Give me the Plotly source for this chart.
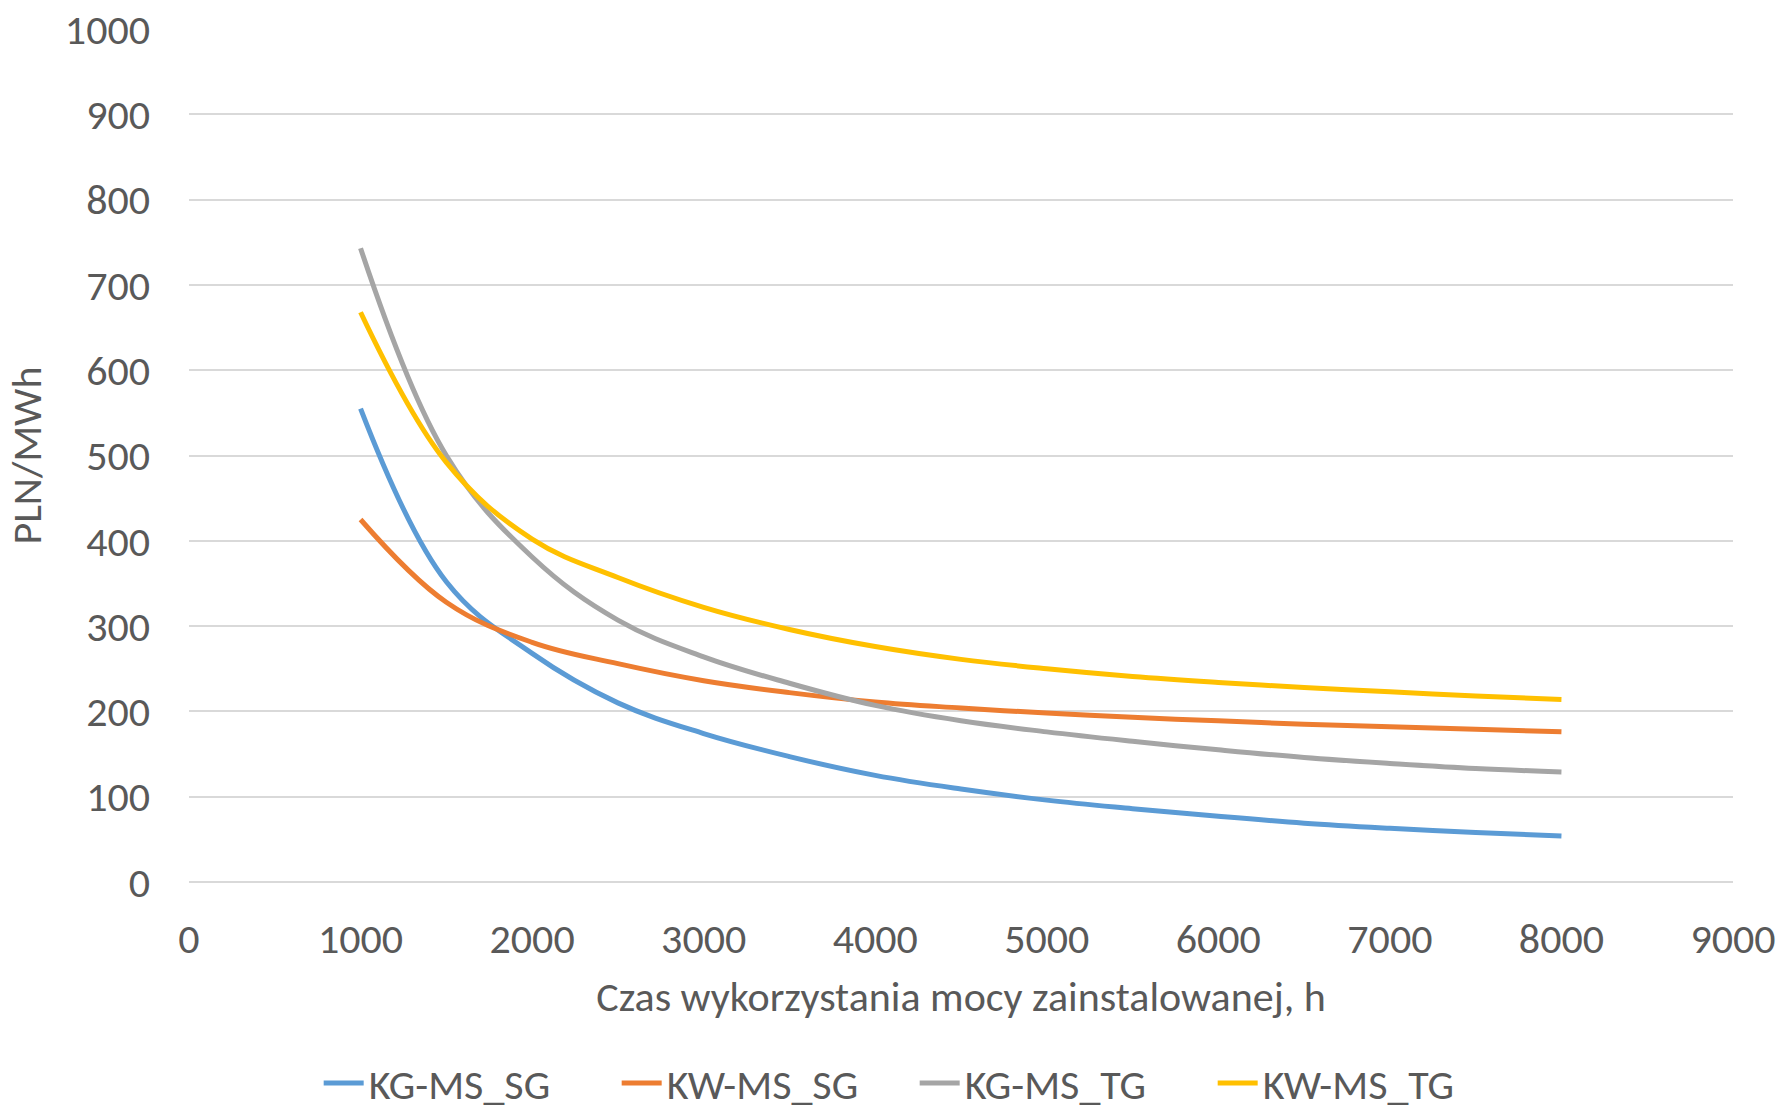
import plotly.graph_objects as go

hours = [1000, 1500, 2000, 2500, 3000, 3500, 4000, 4500, 5000, 5500, 6000, 6500, 7000, 7500, 8000]
kg_ms_sg = [555, 352, 268, 210, 174, 147, 125, 109, 96, 86, 77, 69, 63, 58, 54]
kw_ms_sg = [425, 328, 281, 256, 236, 222, 211, 204, 198, 193, 189, 185, 182, 179, 176]
kg_ms_tg = [743, 500, 381, 307, 264, 233, 207, 189, 176, 165, 155, 146, 139, 133, 129]
kw_ms_tg = [668, 492, 402, 357, 322, 296, 276, 261, 250, 241, 234, 228, 223, 218, 214]

series = [
    ("KG-MS_SG", kg_ms_sg, "#5B9BD5"),
    ("KW-MS_SG", kw_ms_sg, "#ED7D31"),
    ("KG-MS_TG", kg_ms_tg, "#A5A5A5"),
    ("KW-MS_TG", kw_ms_tg, "#FFC000"),
]

FONT = "Carlito, Lato, sans-serif"
TXT = "#595959"
FS = 42

fig = go.Figure()
for name, vals, col in series:
    fig.add_trace(go.Scatter(
        x=hours, y=vals, name=name, mode="lines",
        line=dict(color=col, width=5, shape="spline", smoothing=1.1),
    ))

fig.update_layout(
    width=1781, height=1109,
    margin=dict(l=189, r=48, t=29, b=227, autoexpand=False),
    paper_bgcolor="white", plot_bgcolor="white",
    font=dict(family=FONT, size=FS, color=TXT),
    showlegend=True,
    legend=dict(
        orientation="h", x=0.470, xanchor="center", y=-0.236, yanchor="middle",
        font=dict(family=FONT, size=FS, color=TXT),
        itemwidth=40, tracegroupgap=0,
        entrywidth=243, entrywidthmode="pixels",
    ),
    xaxis=dict(
        range=[0, 9000], tickvals=[0, 1000, 2000, 3000, 4000, 5000, 6000, 7000, 8000, 9000],
        showgrid=False, zeroline=False, showline=False, ticks="",
        ticklabelstandoff=28,
        tickfont=dict(family=FONT, size=FS, color=TXT),
        title=dict(text="Czas wykorzystania mocy zainstalowanej, h",
                   font=dict(family=FONT, size=FS, color=TXT), standoff=18),
        automargin=False,
    ),
    yaxis=dict(
        range=[0, 1000], tickvals=[0, 100, 200, 300, 400, 500, 600, 700, 800, 900, 1000],
        showgrid=True, gridcolor="#D9D9D9", gridwidth=2,
        zeroline=True, zerolinecolor="#D9D9D9", zerolinewidth=2,
        showline=False, ticks="",
        ticklabelstandoff=38,
        tickfont=dict(family=FONT, size=FS, color=TXT),
        title=dict(text="PLN/MWh", font=dict(family=FONT, size=FS, color=TXT), standoff=10),
        automargin=False,
    ),
)

fig.write_html("out.html")
